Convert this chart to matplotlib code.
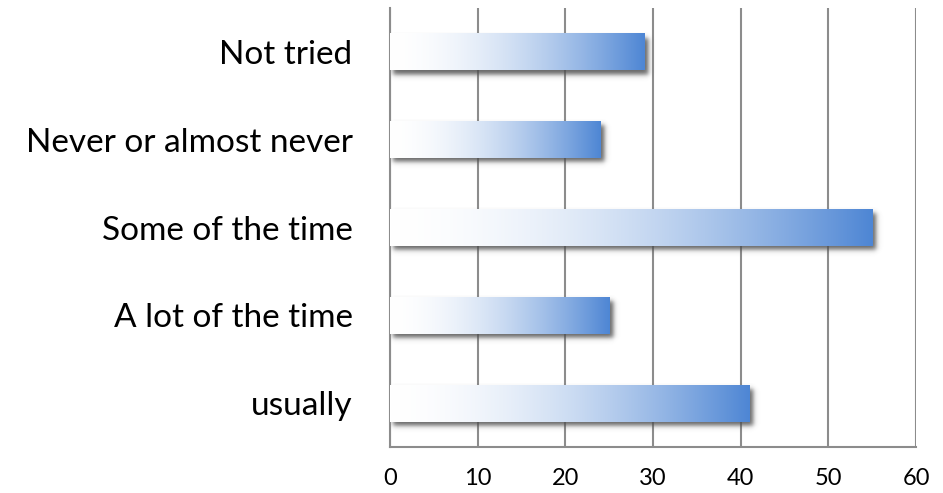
import numpy as np
import matplotlib
matplotlib.use("Agg")
import matplotlib.pyplot as plt

categories = ["usually", "A lot of the time", "Some of the time",
              "Never or almost never", "Not tried"]
values = [41, 25, 55, 24, 29]
xticks = [0, 10, 20, 30, 40, 50, 60]

plt.rcParams['font.family'] = ['Lato', 'DejaVu Sans']

W, H = 943, 493
fig = plt.figure(figsize=(W / 100, H / 100), dpi=100)
ax = fig.add_axes([390 / W, 46 / H, 526 / W, 439 / H])
ax.set_xlim(0, 60)
ax.set_ylim(-0.5, len(categories) - 0.5)

bar_h = 0.42
end_col = np.array([78, 134, 212]) / 255.0
t = np.linspace(0, 1, 256) ** 1.8
grad = np.ones((1, 256, 3)) * (1 - t[None, :, None]) + end_col * t[None, :, None]

# pixels per data unit, used for the soft drop shadow
ppx = 526 / 60.0
ppy = 439 / len(categories)

for i, v in enumerate(values):
    y0, y1 = i - bar_h / 2, i + bar_h / 2
    # blurred shadow offset to the lower right
    xs = np.linspace(0, v + 1.5, 320)
    ys = np.linspace(y0 - 0.15, y1 + 0.02, 70)
    X, Y = np.meshgrid(xs, ys)
    off = 4.0
    sx_px = (X - v) * ppx - off
    sy_px = (y0 - Y) * ppy - off
    sl_px = (0.3 - X) * ppx
    st_px = (Y - y1) * ppy + off
    s = 2.8
    a = (0.5 * (1 - np.tanh(sx_px / s))) * (0.5 * (1 - np.tanh(sy_px / s))) \
        * (0.5 * (1 - np.tanh(sl_px / s))) * (0.5 * (1 - np.tanh(st_px / s)))
    sh = np.zeros(X.shape + (4,))
    sh[..., :3] = 0.3
    sh[..., 3] = a * 0.85
    ax.imshow(sh, extent=[xs[0], xs[-1], ys[0], ys[-1]], origin="lower",
              aspect="auto", zorder=2, interpolation="bilinear")
    ax.imshow(grad, extent=[0, v, y0, y1], aspect="auto", zorder=3,
              interpolation="bilinear")

ax.set_xticks(xticks)
ax.set_yticks(range(len(categories)))
ax.set_yticklabels(categories, fontsize=24)
ax.tick_params(axis="x", labelsize=17, length=0, pad=15)
ax.tick_params(axis="y", length=0, pad=27)
ax.grid(axis="x", color="#8c8c8c", linewidth=1.5, zorder=1)
ax.set_axisbelow(True)
for side in ["top", "right"]:
    ax.spines[side].set_visible(False)
for side in ["left", "bottom"]:
    ax.spines[side].set_color("#8c8c8c")
    ax.spines[side].set_linewidth(1.5)

fig.savefig("out.png", dpi=100, facecolor="white")
